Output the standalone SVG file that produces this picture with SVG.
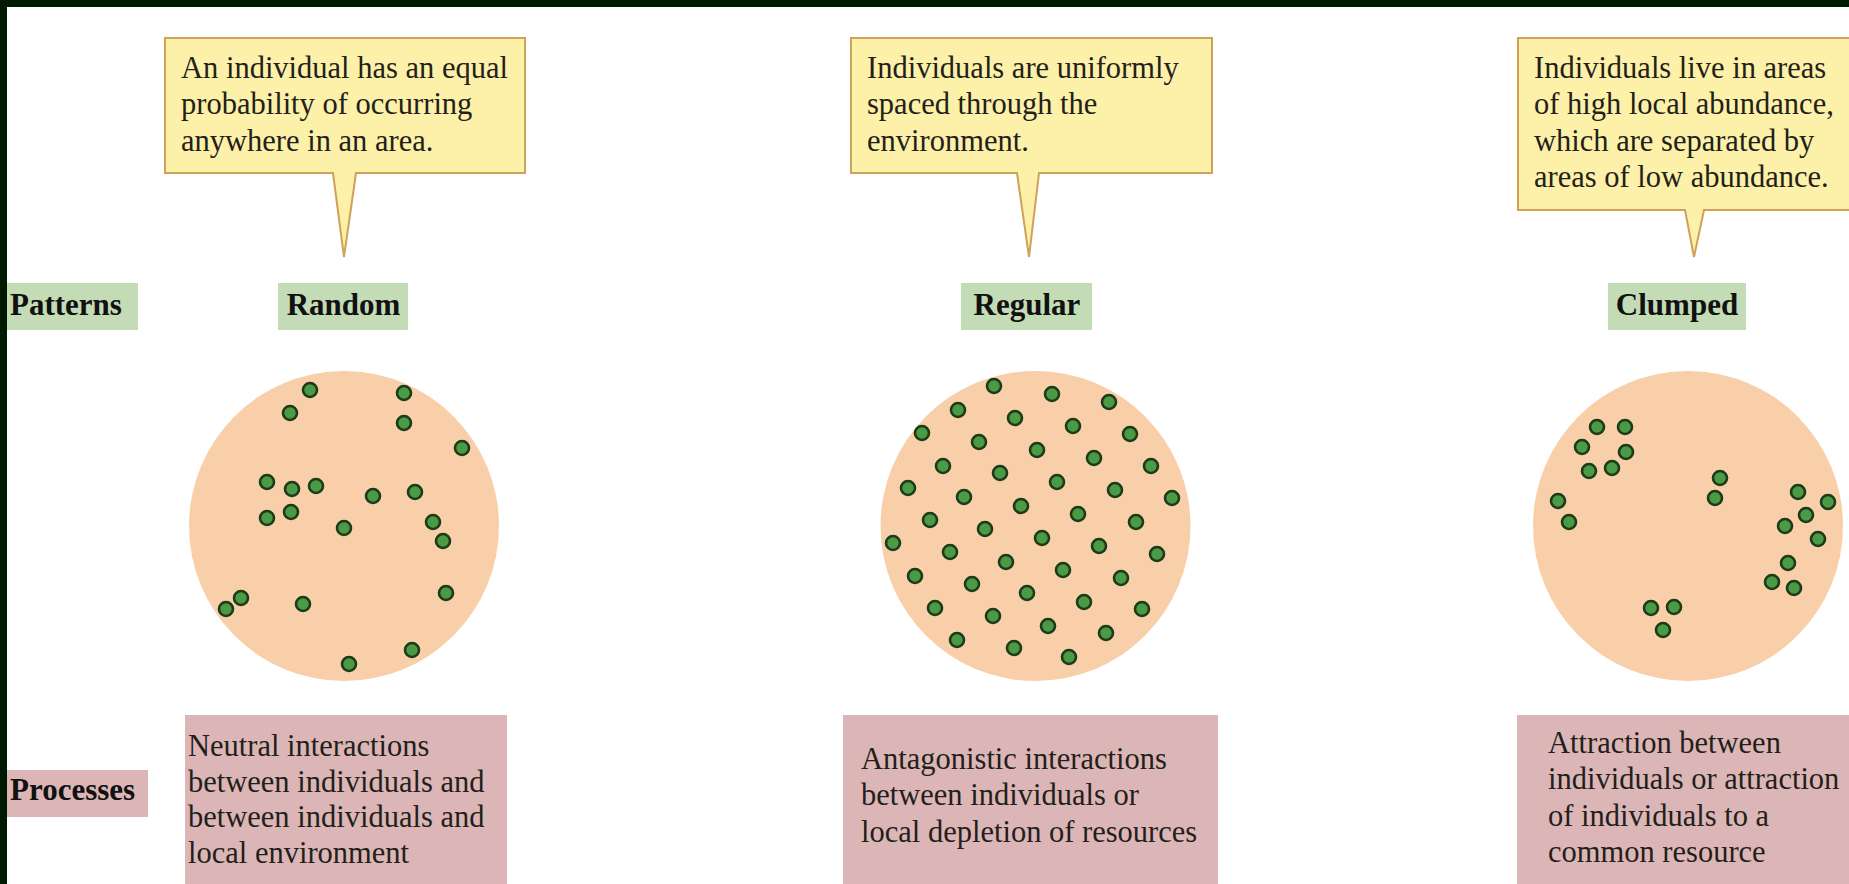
<svg xmlns="http://www.w3.org/2000/svg" width="1849" height="884" viewBox="0 0 1849 884">
<style>
.frame{fill:#001a02}
.callout{fill:#fdf0a8;stroke:#cfa257;stroke-width:2}
.green{fill:#c4dcb5}
.pink{fill:#dcb6b7}
.disc{fill:#f8cfa9}
.dot{fill:#4b9a46;stroke:#1d3b19;stroke-width:2.6}
.t{font-family:"Liberation Serif","Times New Roman",serif;font-size:30.5px;fill:#231f1a}
.b{font-family:"Liberation Serif","Times New Roman",serif;font-size:31px;font-weight:bold;fill:#111}
.c{text-anchor:middle}
</style>
<rect width="1849" height="884" fill="#ffffff"/>
<rect class="frame" x="0" y="0" width="1849" height="7"/>
<rect class="frame" x="0" y="0" width="7" height="884"/>

<g id="label-patterns">
<rect class="green" x="7" y="283" width="131" height="47"/>
<text class="b" x="10" y="315">Patterns</text>
</g>
<g id="label-processes">
<rect class="pink" x="7" y="770" width="141" height="47"/>
<text class="b" x="10" y="800">Processes</text>
</g>

<g id="callout-random">
<path class="callout" d="M165,38 H525 V173 H356 L344,257 L333,173 H165 Z"/>
<text class="t" x="181" y="77.5">An individual has an equal</text>
<text class="t" x="181" y="114">probability of occurring</text>
<text class="t" x="181" y="150.5">anywhere in an area.</text>
</g>
<g id="callout-regular">
<path class="callout" d="M851,38 H1212 V173 H1039 L1029,257 L1017,173 H851 Z"/>
<text class="t" x="867" y="77.5">Individuals are uniformly</text>
<text class="t" x="867" y="114">spaced through the</text>
<text class="t" x="867" y="150.5">environment.</text>
</g>
<g id="callout-clumped">
<path class="callout" d="M1518,38 H1855 V210 H1704 L1694,257 L1685,210 H1518 Z"/>
<text class="t" x="1534" y="77.5">Individuals live in areas</text>
<text class="t" x="1534" y="114">of high local abundance,</text>
<text class="t" x="1534" y="150.5">which are separated by</text>
<text class="t" x="1534" y="187">areas of low abundance.</text>
</g>

<g id="pattern-random">
<rect class="green" x="278" y="283" width="130" height="47"/>
<text class="b c" x="343.5" y="315">Random</text>
</g>
<g id="pattern-regular">
<rect class="green" x="961" y="283" width="131" height="47"/>
<text class="b c" x="1027" y="315">Regular</text>
</g>
<g id="pattern-clumped">
<rect class="green" x="1608" y="283" width="138" height="47"/>
<text class="b c" x="1677" y="315">Clumped</text>
</g>

<g id="disc-random">
<circle class="disc" cx="344" cy="526" r="155"/>
<circle class="dot" cx="310" cy="390" r="7"/>
<circle class="dot" cx="290" cy="413" r="7"/>
<circle class="dot" cx="404" cy="393" r="7"/>
<circle class="dot" cx="404" cy="423" r="7"/>
<circle class="dot" cx="462" cy="448" r="7"/>
<circle class="dot" cx="267" cy="482" r="7"/>
<circle class="dot" cx="292" cy="489" r="7"/>
<circle class="dot" cx="316" cy="486" r="7"/>
<circle class="dot" cx="267" cy="518" r="7"/>
<circle class="dot" cx="291" cy="512" r="7"/>
<circle class="dot" cx="373" cy="496" r="7"/>
<circle class="dot" cx="415" cy="492" r="7"/>
<circle class="dot" cx="344" cy="528" r="7"/>
<circle class="dot" cx="433" cy="522" r="7"/>
<circle class="dot" cx="443" cy="541" r="7"/>
<circle class="dot" cx="241" cy="598" r="7"/>
<circle class="dot" cx="226" cy="609" r="7"/>
<circle class="dot" cx="303" cy="604" r="7"/>
<circle class="dot" cx="446" cy="593" r="7"/>
<circle class="dot" cx="412" cy="650" r="7"/>
<circle class="dot" cx="349" cy="664" r="7"/>
</g>

<g id="disc-regular">
<circle class="disc" cx="1035.5" cy="526" r="155"/>
<circle class="dot" cx="994" cy="386" r="7"/>
<circle class="dot" cx="1052" cy="394" r="7"/>
<circle class="dot" cx="1109" cy="402" r="7"/>
<circle class="dot" cx="958" cy="410" r="7"/>
<circle class="dot" cx="1015" cy="418" r="7"/>
<circle class="dot" cx="1073" cy="426" r="7"/>
<circle class="dot" cx="1130" cy="434" r="7"/>
<circle class="dot" cx="922" cy="433" r="7"/>
<circle class="dot" cx="979" cy="442" r="7"/>
<circle class="dot" cx="1037" cy="450" r="7"/>
<circle class="dot" cx="1094" cy="458" r="7"/>
<circle class="dot" cx="1151" cy="466" r="7"/>
<circle class="dot" cx="943" cy="466" r="7"/>
<circle class="dot" cx="1000" cy="473" r="7"/>
<circle class="dot" cx="1057" cy="482" r="7"/>
<circle class="dot" cx="1115" cy="490" r="7"/>
<circle class="dot" cx="1172" cy="498" r="7"/>
<circle class="dot" cx="908" cy="488" r="7"/>
<circle class="dot" cx="964" cy="497" r="7"/>
<circle class="dot" cx="1021" cy="506" r="7"/>
<circle class="dot" cx="1078" cy="514" r="7"/>
<circle class="dot" cx="1136" cy="522" r="7"/>
<circle class="dot" cx="930" cy="520" r="7"/>
<circle class="dot" cx="985" cy="529" r="7"/>
<circle class="dot" cx="1042" cy="538" r="7"/>
<circle class="dot" cx="1099" cy="546" r="7"/>
<circle class="dot" cx="1157" cy="554" r="7"/>
<circle class="dot" cx="893" cy="543" r="7"/>
<circle class="dot" cx="950" cy="552" r="7"/>
<circle class="dot" cx="1006" cy="562" r="7"/>
<circle class="dot" cx="1063" cy="570" r="7"/>
<circle class="dot" cx="1121" cy="578" r="7"/>
<circle class="dot" cx="915" cy="576" r="7"/>
<circle class="dot" cx="972" cy="584" r="7"/>
<circle class="dot" cx="1027" cy="593" r="7"/>
<circle class="dot" cx="1084" cy="602" r="7"/>
<circle class="dot" cx="1142" cy="609" r="7"/>
<circle class="dot" cx="935" cy="608" r="7"/>
<circle class="dot" cx="993" cy="616" r="7"/>
<circle class="dot" cx="1048" cy="626" r="7"/>
<circle class="dot" cx="1106" cy="633" r="7"/>
<circle class="dot" cx="957" cy="640" r="7"/>
<circle class="dot" cx="1014" cy="648" r="7"/>
<circle class="dot" cx="1069" cy="657" r="7"/>
</g>

<g id="disc-clumped">
<circle class="disc" cx="1688" cy="526" r="155"/>
<circle class="dot" cx="1597" cy="427" r="7"/>
<circle class="dot" cx="1625" cy="427" r="7"/>
<circle class="dot" cx="1582" cy="447" r="7"/>
<circle class="dot" cx="1626" cy="452" r="7"/>
<circle class="dot" cx="1589" cy="471" r="7"/>
<circle class="dot" cx="1612" cy="468" r="7"/>
<circle class="dot" cx="1558" cy="501" r="7"/>
<circle class="dot" cx="1569" cy="522" r="7"/>
<circle class="dot" cx="1720" cy="478" r="7"/>
<circle class="dot" cx="1715" cy="498" r="7"/>
<circle class="dot" cx="1798" cy="492" r="7"/>
<circle class="dot" cx="1828" cy="502" r="7"/>
<circle class="dot" cx="1806" cy="515" r="7"/>
<circle class="dot" cx="1785" cy="526" r="7"/>
<circle class="dot" cx="1818" cy="539" r="7"/>
<circle class="dot" cx="1788" cy="563" r="7"/>
<circle class="dot" cx="1772" cy="582" r="7"/>
<circle class="dot" cx="1794" cy="588" r="7"/>
<circle class="dot" cx="1651" cy="608" r="7"/>
<circle class="dot" cx="1674" cy="607" r="7"/>
<circle class="dot" cx="1663" cy="630" r="7"/>
</g>

<g id="process-random">
<rect class="pink" x="185" y="715" width="322" height="175"/>
<text class="t" x="188" y="755.5">Neutral interactions</text>
<text class="t" x="188" y="791.5">between individuals and</text>
<text class="t" x="188" y="827">between individuals and</text>
<text class="t" x="188" y="862.5">local environment</text>
</g>
<g id="process-regular">
<rect class="pink" x="843" y="715" width="375" height="175"/>
<text class="t" x="861" y="769">Antagonistic interactions</text>
<text class="t" x="861" y="805">between individuals or</text>
<text class="t" x="861" y="841.5">local depletion of resources</text>
</g>
<g id="process-clumped">
<rect class="pink" x="1517" y="715" width="340" height="175"/>
<text class="t" x="1548" y="753">Attraction between</text>
<text class="t" x="1548" y="789">individuals or attraction</text>
<text class="t" x="1548" y="826">of individuals to a</text>
<text class="t" x="1548" y="862">common resource</text>
</g>
</svg>
